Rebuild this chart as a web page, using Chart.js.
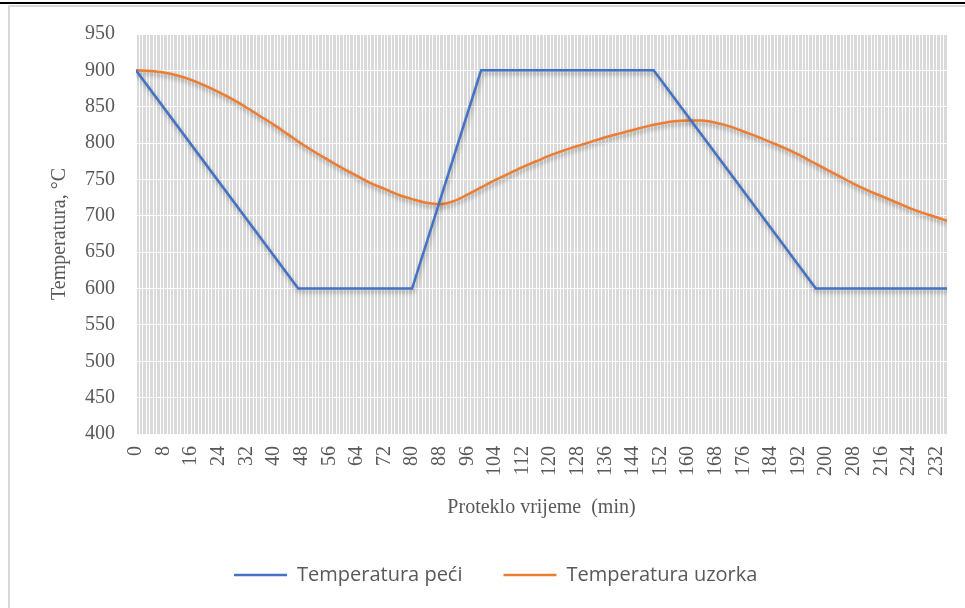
<!DOCTYPE html>
<html><head><meta charset="utf-8">
<script src="https://cdn.jsdelivr.net/npm/chart.js@4"></script>
<style>html,body{margin:0;padding:0;background:#fff;}</style>
</head><body>
<canvas id="c" width="965" height="608"></canvas>
<script>
// ---- data ----
const seriesNames = ['Temperatura peći', 'Temperatura uzorka'];
const furnaceTimes = [0, 47, 80, 100, 150, 197, 235];
const furnaceTemps = [900, 600, 600, 900, 900, 600, 600];
const sampleTimes = [0, 4, 8, 12, 16, 20, 24, 28, 32, 36, 40, 44, 48, 52, 56, 60, 64, 68, 72, 76, 80, 84, 88, 92, 96, 100, 104, 108, 112, 116, 120, 124, 128, 132, 136, 140, 144, 148, 152, 156, 160, 164, 168, 172, 176, 180, 184, 188, 192, 196, 200, 204, 208, 212, 216, 220, 224, 228, 232, 235];
const sampleTemps = [900, 899, 897, 893, 887, 879, 870, 860, 849, 837, 825, 812, 799, 787, 776, 765, 755, 745, 737, 729, 723, 718, 716, 720, 729, 739, 749, 758, 767, 775, 783, 790, 796, 802, 808, 813, 818, 823, 827, 830, 831, 831, 828, 823, 816, 809, 801, 793, 784, 774, 764, 754, 744, 735, 727, 719, 711, 704, 698, 693];
const xMin = 0, xMax = 235, xGridStep = 1, xLabelStep = 8;
const yMin = 400, yMax = 950, yStep = 50;
const xTitle = 'Proteklo vrijeme  (min)';
const yTitle = 'Temperatura, °C';

const toPoints = (xs, ys) => xs.map((x, i) => ({x: x, y: ys[i]}));

const bgPlugin = {
  id: 'bg',
  beforeDraw(chart) {
    const ctx = chart.ctx, a = chart.chartArea;
    ctx.save();
    ctx.fillStyle = '#ffffff';
    ctx.fillRect(0, 0, chart.width, chart.height);
    ctx.fillStyle = '#000000';
    ctx.fillRect(0, 2, chart.width, 2);
    ctx.fillStyle = '#d9d9d9';
    ctx.fillRect(8, 5, chart.width - 8, 2);
    ctx.fillRect(8, 5, 2, chart.height - 5);
    ctx.fillStyle = '#d9d9d9';
    ctx.fillRect(a.left, a.top, a.right - a.left, a.bottom - a.top);
    ctx.restore();
  }
};
const shadowPlugin = {
  id: 'shadow',
  beforeDatasetsDraw(chart) {
    const ctx = chart.ctx;
    ctx.save();
    ctx.shadowColor = 'rgba(0,0,0,0.30)';
    ctx.shadowBlur = 4;
    ctx.shadowOffsetX = 1;
    ctx.shadowOffsetY = 3;
  },
  afterDatasetsDraw(chart) { chart.ctx.restore(); }
};
const legendPlace = {
  id: 'legendPlace',
  afterLayout(chart) {
    const lg = chart.legend;
    if (!lg) return;
    const w = lg.right - lg.left;
    lg.left = 193; lg.right = lg.left + w;
    lg.top = 524; lg.bottom = 608;
    lg.height = lg.bottom - lg.top;
  }
};

new Chart(document.getElementById('c'), {
  type: 'line',
  data: {
    datasets: [
      { label: seriesNames[0], data: toPoints(furnaceTimes, furnaceTemps), borderColor: '#4472C4', backgroundColor: '#4472C4',
        borderWidth: 2.5, pointRadius: 0, pointStyle: 'line', tension: 0, fill: false },
      { label: seriesNames[1], data: toPoints(sampleTimes, sampleTemps), borderColor: '#ED7D31', backgroundColor: '#ED7D31',
        borderWidth: 2.5, pointRadius: 0, pointStyle: 'line', cubicInterpolationMode: 'monotone', fill: false }
    ]
  },
  options: {
    responsive: false,
    animation: false,
    devicePixelRatio: 1,
    layout: { padding: { left: 0, right: 18, top: 34, bottom: 44 } },
    scales: {
      x: {
        type: 'linear', min: xMin, max: xMax,
        grid: { color: '#ffffff', lineWidth: 1, drawTicks: false },
        border: { display: false },
        ticks: {
          stepSize: xGridStep, autoSkip: false, maxRotation: 90, minRotation: 90, padding: 12,
          color: '#595959', font: { family: 'Liberation Serif', size: 20 },
          callback: (v) => (v % xLabelStep === 0 ? String(v) : '')
        },
        title: { display: true, text: xTitle, color: '#595959', font: { family: 'Liberation Serif', size: 20 }, padding: { top: 0, bottom: 4 } },
        afterFit(s) { s.height = 90; s.paddingLeft = 0; s.paddingRight = 0; }
      },
      y: {
        min: yMin, max: yMax,
        grid: { color: '#ffffff', lineWidth: 1, drawTicks: false },
        border: { display: false },
        ticks: { stepSize: yStep, padding: 21, color: '#595959', font: { family: 'Liberation Serif', size: 20 } },
        title: { display: true, text: yTitle, color: '#595959', font: { family: 'Liberation Serif', size: 20 }, padding: { top: 48, bottom: 0 } },
        afterFit(s) { s.width = 136; }
      }
    },
    plugins: {
      tooltip: { enabled: false },
      legend: {
        position: 'bottom', align: 'start', maxHeight: 40,
        labels: { usePointStyle: true, pointStyleWidth: 53, boxWidth: 53, padding: 41, color: '#595959',
          font: { family: 'Open Sans', size: 20 } }
      }
    }
  },
  plugins: [bgPlugin, shadowPlugin, legendPlace]
});
</script>
</body></html>
